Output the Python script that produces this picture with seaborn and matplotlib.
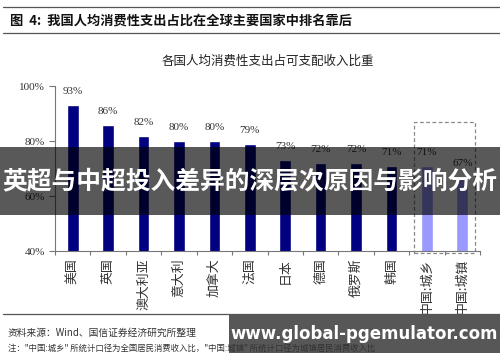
import matplotlib
matplotlib.use('Agg')
import matplotlib.pyplot as plt
from matplotlib.patches import Rectangle
import seaborn as sns

# data
countries = ['美国', '英国', '澳大利亚', '意大利', '加拿大', '法国', '日本',
             '德国', '俄罗斯', '韩国', '中国:城乡', '中国:城镇']
ratios = [93, 86, 82, 80, 80, 79, 73, 72, 72, 71, 71, 67]
yticks = [40, 60, 80, 100]

sns.set_theme(style='white')
plt.rcParams['font.family'] = ['Noto Sans CJK SC', 'DejaVu Sans']
serif = ['Liberation Serif', 'DejaVu Serif']
cjk = ['Noto Sans CJK SC', 'DejaVu Sans']

bar_colors = ['#000080'] * 10 + ['#9999ff'] * 2

fig = plt.figure(figsize=(5.0, 3.62), dpi=100)
ax = fig.add_axes([0.11, 0.3066, 0.85, 0.4558])

sns.barplot(x=countries, y=ratios, hue=countries, palette=bar_colors,
            legend=False, width=0.33, saturation=1, ax=ax)

ax.set_ylim(40, 100)
ax.set_xlim(-0.5, len(countries) - 0.5)
ax.set_yticks(yticks)
ax.set_yticklabels([f'{v}%' for v in yticks], family=serif, fontsize=8, color='#333333')
ax.tick_params(axis='y', length=4, width=0.8, color='#777777', direction='out', left=True, pad=3)

# x ticks at category boundaries, labels rotated (read bottom to top)
ax.set_xticks([i - 0.5 for i in range(len(countries) + 1)])
ax.set_xticklabels([])
ax.tick_params(axis='x', length=3, width=0.8, color='#777777', direction='out', bottom=True)
for i, name in enumerate(countries):
    ax.text(i, -0.045, name, transform=ax.get_xaxis_transform(), rotation=90,
            ha='center', va='top', fontsize=9.3, family=cjk, color='#333333')

for side in ['top', 'right']:
    ax.spines[side].set_visible(False)
for side in ['left', 'bottom']:
    ax.spines[side].set_color('#777777')
    ax.spines[side].set_linewidth(0.8)

for i, v in enumerate(ratios):
    ax.text(i, v + 3.2, f'{v}%', ha='center', va='bottom', fontsize=8,
            family=serif, color='#333333')

# dashed box around the China bars
ax.add_patch(Rectangle((9.64, 39.4), 1.72, 47.5, fill=False, ls=(0, (3, 2)),
                       lw=0.9, ec='#888888', clip_on=False))

ax.set_title('各国人均消费性支出占可支配收入比重', fontsize=9, family=cjk,
             color='#222222', pad=15)

# report header and footer
fig.add_artist(plt.Line2D([0.006, 1.0], [0.981, 0.981], color='#555555', lw=0.9))
fig.add_artist(plt.Line2D([0.006, 1.0], [0.909, 0.909], color='#555555', lw=0.9))
fig.text(0.02, 0.944, '图  4:  我国人均消费性支出占比在全球主要国家中排名靠后',
         fontsize=9.5, weight='bold', family=cjk, va='center', color='#111111')
fig.add_artist(plt.Line2D([0.006, 1.0], [0.133, 0.133], color='#555555', lw=0.9))
fig.text(0.016, 0.08, '资料来源：Wind、国信证券经济研究所整理', fontsize=7,
         family=cjk, va='center', color='#333333')
fig.text(0.016, 0.039,
         '注："中国:城乡" 所统计口径为全国居民消费收入比，"中国:城镇" 所统计口径为城镇居民消费收入比',
         fontsize=6, family=cjk, va='center', color='#333333')

# overlay banners seen on the picture
fig.add_artist(Rectangle((0, 0.406), 1, 0.188, transform=fig.transFigure,
                         color='black', alpha=0.65, lw=0))
fig.text(0.5, 0.5, '英超与中超投入差异的深层次原因与影响分析', fontsize=17.8,
         weight='bold', family=cjk, color='white', ha='center', va='center')
fig.add_artist(Rectangle((0.458, 0.025), 0.542, 0.105, transform=fig.transFigure,
                         color='#3a3a3a', alpha=0.85, lw=0))
fig.text(0.728, 0.077, 'www.global-pgemulator.com', fontsize=12, weight='bold',
         family=['DejaVu Sans'], color='white', ha='center', va='center')

fig.savefig('out.png', dpi=100)
